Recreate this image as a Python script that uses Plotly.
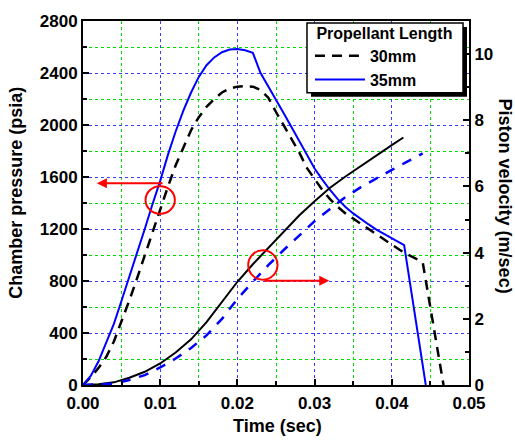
import plotly.graph_objects as go

# ---- data ----
t_p30 = [0.000, 0.001, 0.002, 0.003, 0.004, 0.005, 0.006, 0.007, 0.008, 0.009,
         0.010, 0.011, 0.012, 0.013, 0.014, 0.015, 0.016, 0.017, 0.018, 0.019,
         0.020, 0.021, 0.022, 0.023, 0.024, 0.025, 0.026, 0.027, 0.028, 0.029,
         0.030, 0.031, 0.032, 0.033, 0.034, 0.035, 0.036, 0.037, 0.038, 0.039,
         0.040, 0.041, 0.042, 0.043, 0.044, 0.0467]
p30 = [0, 60, 130, 215, 335, 490, 650, 820, 1000, 1175,
       1345, 1525, 1690, 1830, 1960, 2060, 2140, 2200, 2250, 2280,
       2295, 2300, 2295, 2270, 2210, 2100, 2000, 1900, 1790, 1670,
       1580, 1500, 1430, 1370, 1320, 1280, 1240, 1200, 1160, 1115,
       1075, 1040, 1005, 975, 945, 0]

t_p35 = [0.000, 0.001, 0.002, 0.003, 0.004, 0.005, 0.006, 0.007, 0.008, 0.009,
         0.010, 0.011, 0.012, 0.013, 0.014, 0.015, 0.016, 0.017, 0.018, 0.019,
         0.020, 0.021, 0.022, 0.023, 0.024, 0.025, 0.026, 0.027, 0.028, 0.029,
         0.030, 0.031, 0.032, 0.033, 0.034, 0.035, 0.036, 0.037, 0.038, 0.039,
         0.040, 0.0416, 0.0444]
p35 = [0, 70, 180, 320, 470, 650, 830, 1010, 1200, 1390,
       1570, 1770, 1950, 2110, 2250, 2370, 2460, 2520, 2560, 2580,
       2585, 2575, 2555, 2400, 2300, 2200, 2090, 1985, 1880, 1770,
       1665, 1580, 1500, 1430, 1370, 1320, 1275, 1235, 1195, 1160,
       1125, 1075, 0]

t_v_solid = [0.000, 0.002, 0.004, 0.006, 0.008, 0.010, 0.012, 0.014, 0.016, 0.018,
             0.020, 0.022, 0.024, 0.026, 0.028, 0.030, 0.032, 0.034, 0.036, 0.038,
             0.040, 0.0415]
v_solid = [0.00, 0.02, 0.08, 0.22, 0.40, 0.65, 0.98, 1.38, 1.90, 2.50,
           3.12, 3.65, 4.15, 4.65, 5.12, 5.55, 5.96, 6.30, 6.62, 6.95,
           7.25, 7.48]

t_v_dash = [0.000, 0.002, 0.004, 0.006, 0.008, 0.010, 0.012, 0.014, 0.016, 0.018,
            0.020, 0.022, 0.024, 0.026, 0.028, 0.030, 0.032, 0.034, 0.036, 0.038,
            0.040, 0.042, 0.044]
v_dash = [0.00, 0.01, 0.04, 0.15, 0.30, 0.53, 0.80, 1.12, 1.50, 2.00,
          2.60, 3.12, 3.62, 4.08, 4.52, 4.95, 5.32, 5.68, 5.98, 6.25,
          6.50, 6.75, 7.00]

x_ticks = [0.00, 0.01, 0.02, 0.03, 0.04, 0.05]
x_labels = ["0.00", "0.01", "0.02", "0.03", "0.04", "0.05"]
series_names = ["30mm", "35mm"]
legend_title = "Propellant Length"

FONT = "Liberation Sans, Arial, sans-serif"
BLUE = "#0000ff"
NB = "\u00a0"

fig = go.Figure()
fig.add_trace(go.Scatter(x=t_p30, y=p30, mode="lines", name=series_names[0],
                         line=dict(color="black", width=2.5, dash="10px,7px")))
fig.add_trace(go.Scatter(x=t_p35, y=p35, mode="lines", name=series_names[1],
                         line=dict(color=BLUE, width=2)))
fig.add_trace(go.Scatter(x=t_v_solid, y=v_solid, mode="lines", showlegend=False,
                         yaxis="y2", line=dict(color="black", width=2)))
fig.add_trace(go.Scatter(x=t_v_dash, y=v_dash, mode="lines", showlegend=False,
                         yaxis="y2", line=dict(color=BLUE, width=2.5, dash="10px,9px")))

tickfont = dict(family=FONT, size=17, color="black", weight="bold")
major_grid = "rgb(60,60,255)"
minor_grid = "rgb(0,225,0)"

fig.update_layout(
    width=515, height=443,
    margin=dict(l=83, r=46, t=15, b=58),
    paper_bgcolor="white", plot_bgcolor="white",
    showlegend=True,
    legend=dict(x=0.588, y=1.008, xanchor="left", yanchor="top",
                bgcolor="rgba(0,0,0,0)", borderwidth=0,
                title=dict(text=NB + legend_title,
                           font=dict(family=FONT, size=16, color="black", weight="bold")),
                font=dict(family=FONT, size=16, color="black", weight="bold"),
                itemwidth=50, tracegroupgap=0),
    xaxis=dict(range=[0, 0.05], tickvals=x_ticks, ticktext=x_labels,
               showline=True, linecolor="black", linewidth=2, mirror=True,
               ticks="inside", ticklen=6, tickwidth=1.5, tickcolor="black",
               tickfont=tickfont, zeroline=False, ticklabelstandoff=2,
               showgrid=True, gridcolor=major_grid, gridwidth=1, griddash="dot",
               minor=dict(dtick=0.005, ticks="inside", ticklen=4, tickcolor="black",
                          showgrid=True, gridcolor=minor_grid, gridwidth=1, griddash="dot")),
    yaxis=dict(range=[0, 2800], dtick=400,
               showline=True, linecolor="black", linewidth=2,
               ticks="inside", ticklen=6, tickwidth=1.5, tickcolor="black",
               tickfont=tickfont, zeroline=False,
               showgrid=True, gridcolor=major_grid, gridwidth=1, griddash="dot",
               minor=dict(dtick=200, ticks="inside", ticklen=4, tickcolor="black",
                          showgrid=True, gridcolor=minor_grid, gridwidth=1, griddash="dot")),
    yaxis2=dict(range=[0, 11], dtick=2, overlaying="y", side="right",
                showline=True, linecolor="black", linewidth=2,
                ticks="inside", ticklen=6, tickwidth=1.5, tickcolor="black",
                tickfont=tickfont, zeroline=False, showgrid=False,
                minor=dict(dtick=1, ticks="inside", ticklen=4, tickcolor="black",
                           showgrid=False)),
)

titlefont = dict(family=FONT, size=18, color="black", weight="bold")
fig.add_annotation(text="Time (sec)", xref="paper", yref="paper", x=0.505, y=-0.1135,
                   xanchor="center", yanchor="middle", showarrow=False, font=titlefont)
fig.add_annotation(text="Chamber pressure (psia)", xref="paper", yref="paper",
                   x=-0.172, y=0.527, textangle=-90, xanchor="center", yanchor="middle",
                   showarrow=False, font=titlefont)
fig.add_annotation(text="Piston velocity (m/sec)", xref="paper", yref="paper",
                   x=1.092, y=0.519, textangle=90, xanchor="center", yanchor="middle",
                   showarrow=False, font=titlefont)

# red highlight circles and arrows
RED = "#ff0000"
fig.add_shape(type="circle", xref="x", yref="y", x0=0.0081, x1=0.0119, y0=1317, y1=1529,
              line=dict(color=RED, width=2))
fig.add_shape(type="circle", xref="x", yref="y", x0=0.0214, x1=0.0252, y0=810, y1=1036,
              line=dict(color=RED, width=2))
fig.add_annotation(x=0.0018, y=1552, ax=0.0105, ay=1552, xref="x", yref="y",
                   axref="x", ayref="y", text="", showarrow=True, arrowhead=2,
                   arrowsize=1, arrowwidth=2, arrowcolor=RED)
fig.add_annotation(x=0.0319, y=802, ax=0.0233, ay=802, xref="x", yref="y",
                   axref="x", ayref="y", text="", showarrow=True, arrowhead=2,
                   arrowsize=1, arrowwidth=2, arrowcolor=RED)

# legend frame with drop shadow
fig.add_shape(type="rect", xref="paper", yref="paper", x0=0.5907, x1=0.9948,
              y0=0.7919, y1=0.9838, fillcolor="black", line=dict(width=0), layer="above")
fig.add_shape(type="rect", xref="paper", yref="paper", x0=0.5803, x1=0.9845,
              y0=0.8027, y1=0.9946, fillcolor="white",
              line=dict(color="black", width=1.5), layer="above")

fig.write_html("out.html")
